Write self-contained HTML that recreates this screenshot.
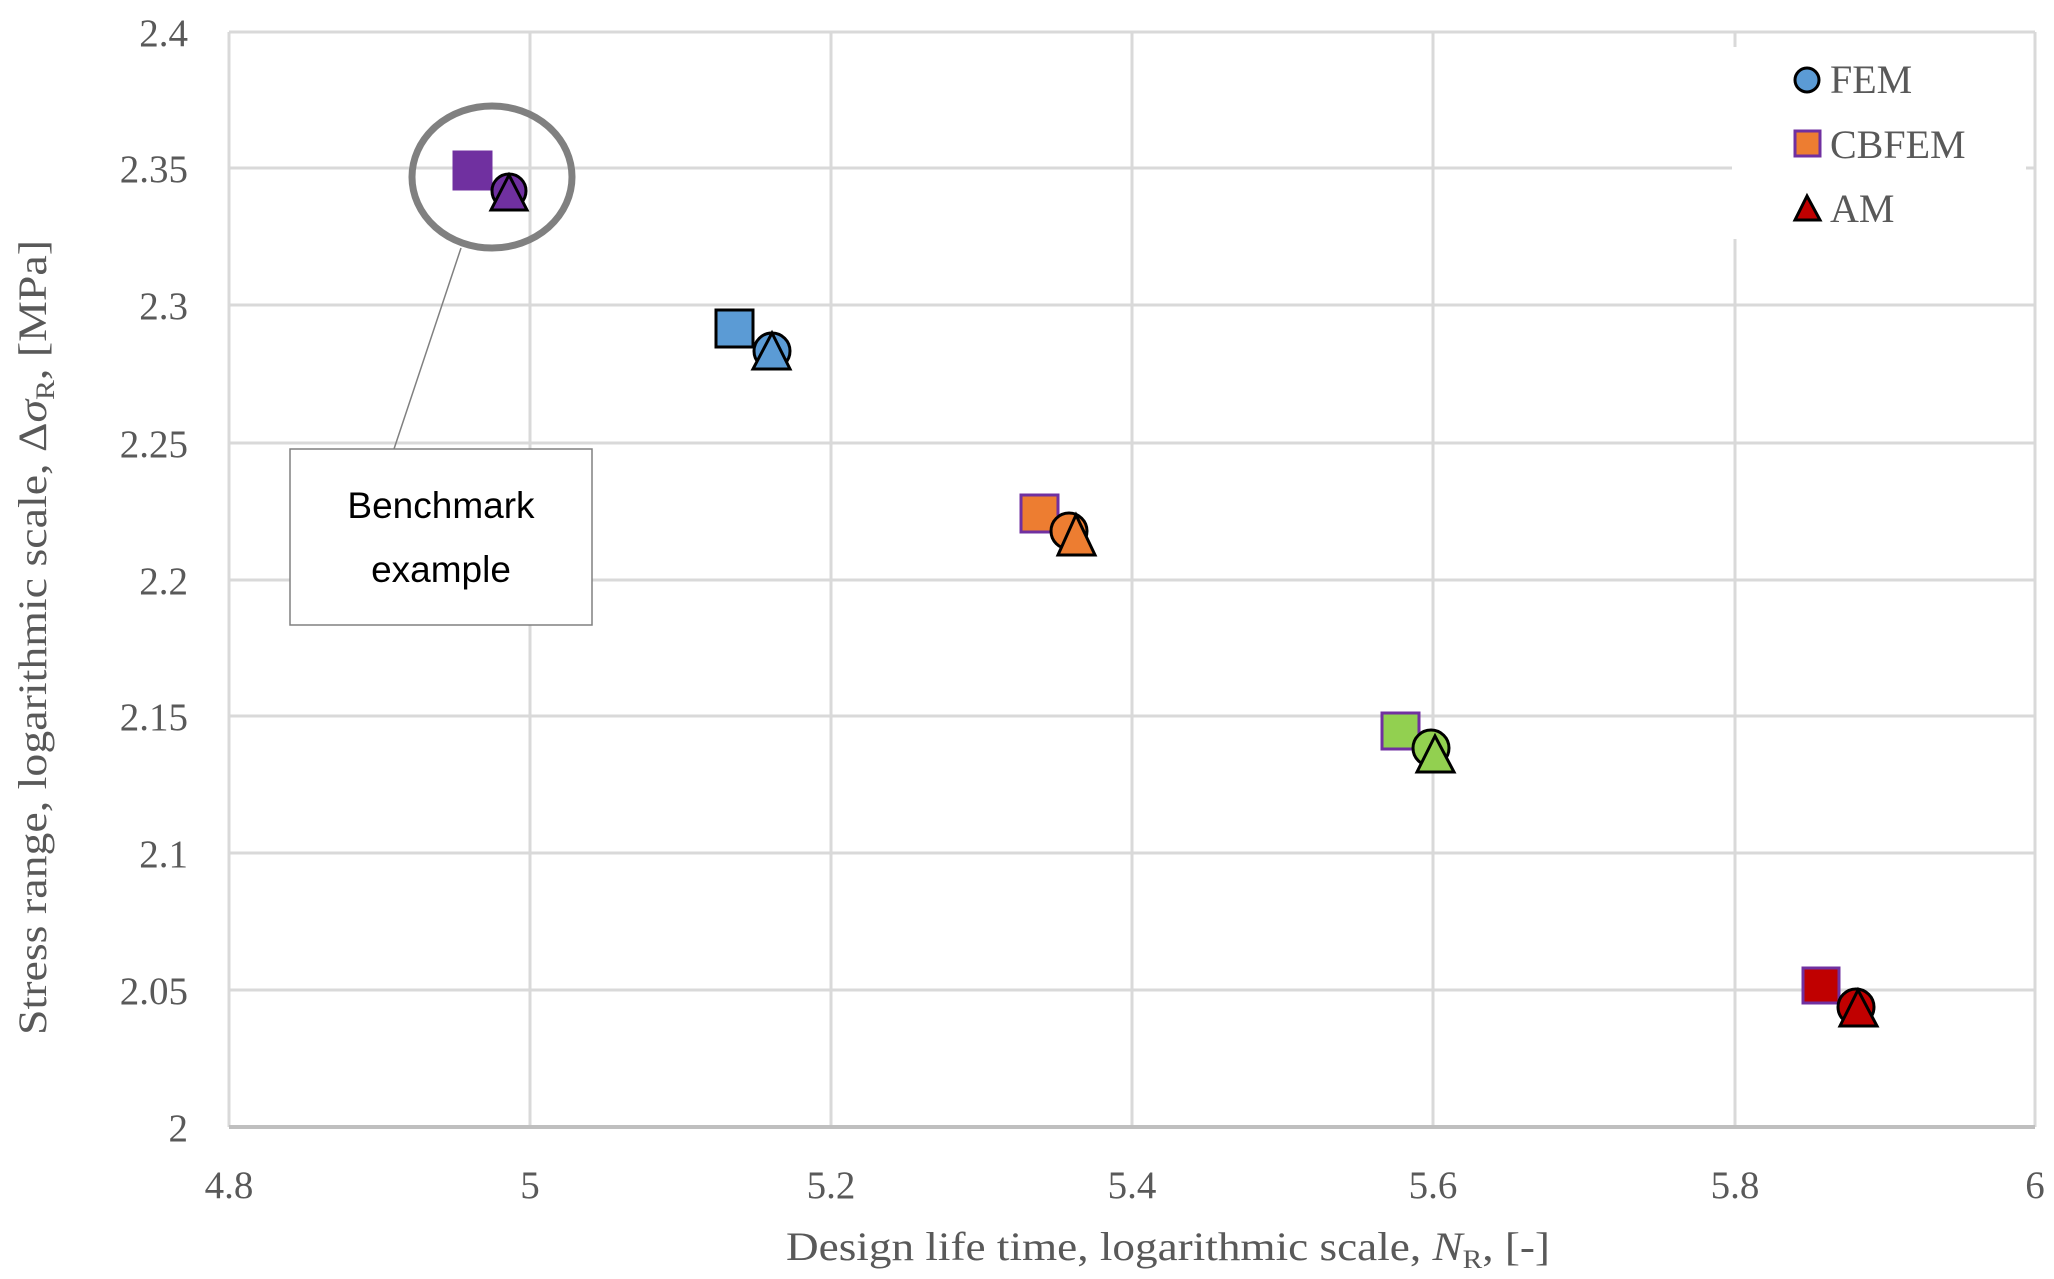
<!DOCTYPE html>
<html><head><meta charset="utf-8"><style>
html,body{margin:0;padding:0;background:#fff;}
svg{display:block;}
text{font-family:"Liberation Serif",serif;fill:#595959;}
</style></head><body>
<svg width="2054" height="1279" viewBox="0 0 2054 1279" xmlns="http://www.w3.org/2000/svg">
<rect width="2054" height="1279" fill="#fff"/>
<g stroke="#d9d9d9" stroke-width="3" fill="none">
<line x1="229" y1="32" x2="2035" y2="32"/>
<line x1="229" y1="168" x2="2035" y2="168"/>
<line x1="229" y1="305" x2="2035" y2="305"/>
<line x1="229" y1="443" x2="2035" y2="443"/>
<line x1="229" y1="580" x2="2035" y2="580"/>
<line x1="229" y1="716" x2="2035" y2="716"/>
<line x1="229" y1="853" x2="2035" y2="853"/>
<line x1="229" y1="990" x2="2035" y2="990"/>
<line x1="229" y1="32" x2="229" y2="1127"/>
<line x1="530" y1="32" x2="530" y2="1127"/>
<line x1="831" y1="32" x2="831" y2="1127"/>
<line x1="1132" y1="32" x2="1132" y2="1127"/>
<line x1="1433" y1="32" x2="1433" y2="1127"/>
<line x1="1735" y1="32" x2="1735" y2="1127"/>
<line x1="2035" y1="32" x2="2035" y2="1127"/>
</g>
<line x1="229" y1="1127" x2="2035" y2="1127" stroke="#bfbfbf" stroke-width="4"/>
<!-- legend bg -->
<rect x="1732" y="47" width="294" height="192" fill="#fff"/>
<!-- y tick labels -->
<g font-size="39" text-anchor="end">
<text x="188" y="46">2.4</text>
<text x="188" y="182">2.35</text>
<text x="188" y="319">2.3</text>
<text x="188" y="457">2.25</text>
<text x="188" y="594">2.2</text>
<text x="188" y="730">2.15</text>
<text x="188" y="867">2.1</text>
<text x="188" y="1004">2.05</text>
<text x="188" y="1141">2</text>
</g>
<g font-size="39" text-anchor="middle">
<text x="229" y="1198">4.8</text>
<text x="530" y="1198">5</text>
<text x="831" y="1198">5.2</text>
<text x="1132" y="1198">5.4</text>
<text x="1433" y="1198">5.6</text>
<text x="1735" y="1198">5.8</text>
<text x="2035" y="1198">6</text>
</g>
<text x="786" y="1260" font-size="40" textLength="764" lengthAdjust="spacingAndGlyphs">Design life time, logarithmic scale, <tspan font-style="italic">N</tspan><tspan font-size="26" dy="8">R</tspan><tspan dy="-8">, [-]</tspan></text>
<text transform="translate(46,1035) rotate(-90)" font-size="40" textLength="795" lengthAdjust="spacingAndGlyphs">Stress range, logarithmic scale, Δ<tspan font-style="italic">σ</tspan><tspan font-size="26" dy="8">R</tspan><tspan dy="-8">, [MPa]</tspan></text>
<!-- callout -->
<ellipse cx="492" cy="177" rx="80" ry="71" fill="none" stroke="#808080" stroke-width="7"/>
<line x1="461" y1="248" x2="394" y2="449" stroke="#808080" stroke-width="1.5"/>
<rect x="290" y="449" width="302" height="176" fill="#fff" stroke="#808080" stroke-width="1.5"/>
<text x="441" y="518" font-size="37" text-anchor="middle" style="font-family:'Liberation Sans',sans-serif;fill:#000">Benchmark</text>
<text x="441" y="582" font-size="37" text-anchor="middle" style="font-family:'Liberation Sans',sans-serif;fill:#000">example</text>
<!-- markers -->
<g stroke-width="3">
<rect x="454" y="152" width="37" height="37" fill="#7030a0" stroke="#7030a0"/>
<circle cx="509" cy="191" r="17" fill="#7030a0" stroke="#000"/>
<polygon points="509,175 491,210 527,210" fill="#7030a0" stroke="#000"/>

<rect x="716" y="310" width="37" height="37" fill="#5b9bd5" stroke="#000"/>
<circle cx="772" cy="351" r="18" fill="#5b9bd5" stroke="#000"/>
<polygon points="772,333 753,369 790,369" fill="#5b9bd5" stroke="#000"/>

<rect x="1021" y="495" width="37" height="37" fill="#ed7d31" stroke="#7030a0"/>
<circle cx="1069" cy="531" r="18" fill="#ed7d31" stroke="#000"/>
<polygon points="1076,515 1058,555 1095,555" fill="#ed7d31" stroke="#000"/>

<rect x="1382" y="713" width="37" height="36" fill="#92d050" stroke="#7030a0"/>
<circle cx="1431" cy="748" r="18" fill="#92d050" stroke="#000"/>
<polygon points="1435,736 1417,772 1454,772" fill="#92d050" stroke="#000"/>

<rect x="1803" y="968" width="36" height="35" fill="#c00000" stroke="#7030a0"/>
<circle cx="1856" cy="1007" r="18" fill="#c00000" stroke="#000"/>
<polygon points="1858,990 1840,1026 1877,1026" fill="#c00000" stroke="#000"/>

<!-- legend markers -->
<circle cx="1807" cy="80" r="12" fill="#5b9bd5" stroke="#000"/>
<rect x="1795" y="131" width="25" height="25" fill="#ed7d31" stroke="#7030a0"/>
<polygon points="1807,196 1795,220 1820,220" fill="#c00000" stroke="#000"/>
</g>
<g font-size="40">
<text x="1830" y="93">FEM</text>
<text x="1830" y="158">CBFEM</text>
<text x="1830" y="222">AM</text>
</g>
</svg>
</body></html>
